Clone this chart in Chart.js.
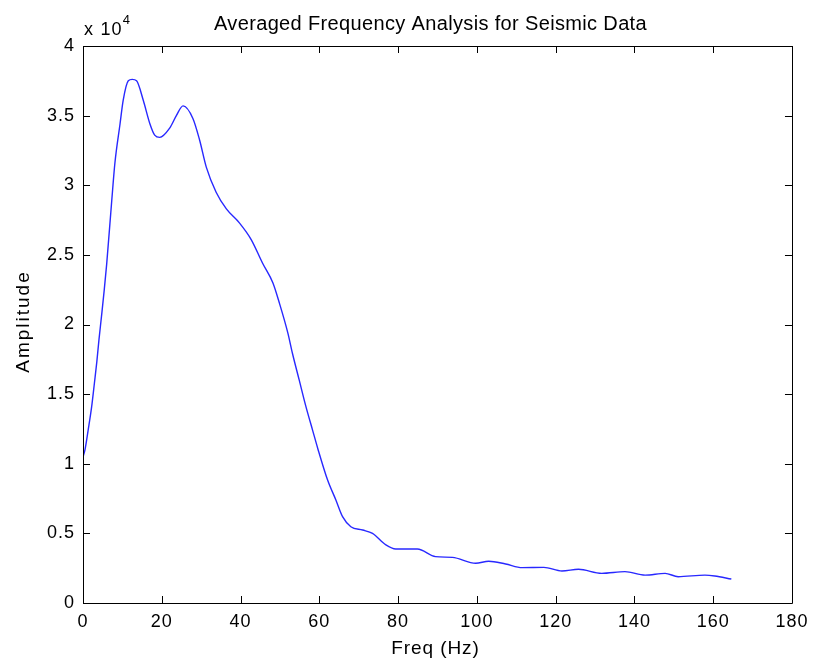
<!DOCTYPE html>
<html>
<head>
<meta charset="utf-8">
<script src="https://cdn.jsdelivr.net/npm/chart.js@4.4.1/dist/chart.umd.min.js"></script>
<style>
  html, body { margin: 0; padding: 0; background: #ffffff; }
  #wrap { width: 815px; height: 664px; position: relative; }
</style>
</head>
<body>
<div id="wrap"><canvas id="c" width="815" height="664"></canvas></div>
<script>
// ---- Data ----
const chartTitle = 'Averaged Frequency Analysis for Seismic Data';
const xLabel = 'Freq (Hz)';
const yLabel = 'Amplitude';
const freqHz = [0, 0.5, 1.3, 2.2, 2.9, 3.5, 4.05, 4.7, 5.4, 6.0, 7.3, 8.1, 9.4, 10.2, 11.5, 12.5, 13.6,
  15.3, 17, 18.2, 19.5, 22, 23.7, 25.4, 27.9, 29.6, 31.3, 33.8, 36.4, 39.7, 42.7, 45.6, 48.2, 49.9,
  52, 53.2, 54.9, 56.6, 58.3, 59.6, 62.1, 64.2, 65.9, 68, 71, 73.5, 76.9, 79.4, 84.9, 89.5, 93.8,
  99.7, 103, 107.3, 111.5, 117, 121.6, 125.8, 131.7, 137.6, 142.7, 147.8, 151.1, 157.9, 160.4, 164.6];
const amplitude = [10500, 11000, 12400, 14100, 15800, 17300, 18900, 20600, 22500, 24300, 28900, 31600,
  34400, 36100, 37500, 37600, 37500, 36100, 34400, 33600, 33440, 34100, 35000, 35700, 34800, 33250,
  31300, 29500, 28300, 27300, 26100, 24400, 23000, 21500, 19400, 17900, 16000, 14100, 12400, 11100,
  8830, 7400, 6200, 5480, 5240, 5000, 4170, 3880, 3880, 3330, 3280, 2850, 3000, 2800, 2540, 2560,
  2300, 2420, 2130, 2250, 2000, 2130, 1890, 2000, 1940, 1720];
const xTicks = [0, 20, 40, 60, 80, 100, 120, 140, 160, 180];
const yTicks = [0, 5000, 10000, 15000, 20000, 25000, 30000, 35000, 40000];
const yExponent = '4';

const FONT = '"Liberation Sans", Arial, Helvetica, sans-serif';

const points = freqHz.map((f, i) => ({ x: f, y: amplitude[i] }));

const framePlugin = {
  id: 'frame',
  beforeDraw(chart) {
    chart.ctx.letterSpacing = '1px';
  },
  afterDraw(chart) {
    const ctx = chart.ctx;
    const a = chart.chartArea;
    const xs = chart.scales.x, ys = chart.scales.y;
    const tl = 7;
    ctx.save();
    ctx.strokeStyle = '#000';
    ctx.lineWidth = 1;
    ctx.beginPath();
    ctx.rect(Math.round(a.left) + 0.5, Math.round(a.top) + 0.5,
             Math.round(a.right - a.left), Math.round(a.bottom - a.top));
    ctx.stroke();
    ctx.beginPath();
    xTicks.forEach(v => {
      const px = Math.round(xs.getPixelForValue(v)) + 0.5;
      ctx.moveTo(px, a.bottom); ctx.lineTo(px, a.bottom - tl);
      ctx.moveTo(px, a.top); ctx.lineTo(px, a.top + tl);
    });
    yTicks.forEach(v => {
      const py = Math.round(ys.getPixelForValue(v)) + 0.5;
      ctx.moveTo(a.left, py); ctx.lineTo(a.left + tl, py);
      ctx.moveTo(a.right, py); ctx.lineTo(a.right - tl, py);
    });
    ctx.stroke();
    ctx.fillStyle = '#000';
    // title
    ctx.textAlign = 'center';
    ctx.textBaseline = 'alphabetic';
    ctx.font = '20px ' + FONT;
    ctx.letterSpacing = '0.35px';
    ctx.fillText(chartTitle, (a.left + a.right) / 2 - 7, 30);
    // x axis title
    ctx.font = '19px ' + FONT;
    ctx.letterSpacing = '0.9px';
    ctx.fillText(xLabel, (a.left + a.right) / 2 - 2, 654);
    // y axis title
    ctx.save();
    ctx.translate(29, (a.top + a.bottom) / 2 - 3);
    ctx.rotate(-Math.PI / 2);
    ctx.font = '19px ' + FONT;
    ctx.letterSpacing = '2px';
    ctx.fillText(yLabel, 0, 0);
    ctx.restore();
    // exponent label
    ctx.textAlign = 'left';
    ctx.font = '18px ' + FONT;
    ctx.letterSpacing = '1.2px';
    ctx.fillText('x 10', a.left + 1, 35);
    const w = ctx.measureText('x 10').width;
    ctx.font = '13px ' + FONT;
    ctx.letterSpacing = '0px';
    ctx.fillText(yExponent, a.left + w + 1, 24);
    ctx.restore();
  }
};

new Chart(document.getElementById('c'), {
  type: 'scatter',
  data: {
    datasets: [{
      data: points,
      showLine: true,
      borderColor: 'rgb(40,40,255)',
      borderWidth: 1.4,
      pointRadius: 0,
      fill: false,
      cubicInterpolationMode: 'monotone'
    }]
  },
  options: {
    responsive: false,
    animation: false,
    devicePixelRatio: 1,
    layout: { padding: { top: 46, right: 21, bottom: 0, left: 0 } },
    plugins: { legend: { display: false }, tooltip: { enabled: false }, title: { display: false } },
    scales: {
      x: {
        type: 'linear', min: 0, max: 180,
        afterBuildTicks: s => { s.ticks = xTicks.map(v => ({ value: v })); },
        ticks: { color: '#000', font: { size: 18, family: FONT }, padding: 8, maxRotation: 0, autoSkip: false },
        grid: { display: false, drawTicks: false },
        border: { display: false },
        title: { display: false },
        afterFit: s => { s.height = 61; }
      },
      y: {
        type: 'linear', min: 0, max: 40000,
        afterBuildTicks: s => { s.ticks = yTicks.map(v => ({ value: v })); },
        ticks: { color: '#000', font: { size: 18, family: FONT }, padding: 8, autoSkip: false,
                 callback: v => String(v / 10000) },
        grid: { display: false, drawTicks: false },
        border: { display: false },
        title: { display: false },
        afterFit: s => { s.width = 83; }
      }
    }
  },
  plugins: [framePlugin]
});
</script>
</body>
</html>
